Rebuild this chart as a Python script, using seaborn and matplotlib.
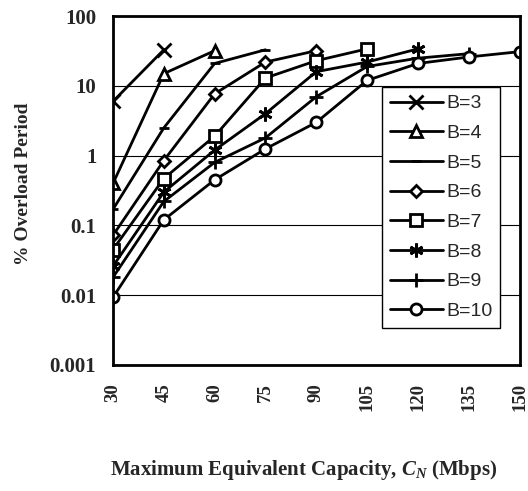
import matplotlib
matplotlib.use("Agg")
import matplotlib.pyplot as plt
import seaborn as sns
import numpy as np

capacity = [30, 45, 60, 75, 90, 105, 120, 135, 150]
b3 = [6.0, 33]
b4 = [0.4, 15, 32]
b5 = [0.17, 2.5, 21, 33]
b6 = [0.072, 0.85, 7.7, 22, 32]
b7 = [0.045, 0.47, 1.9, 13, 23, 34]
b8 = [0.026, 0.3, 1.2, 4.0, 16, 22, 34]
b9 = [0.018, 0.22, 0.8, 1.8, 7.0, 19, 25, 29]
b10 = [0.0093, 0.12, 0.45, 1.25, 3.0, 12, 21, 26, 31]
series_labels = ["B=3", "B=4", "B=5", "B=6", "B=7", "B=8", "B=9", "B=10"]
series_values = [b3, b4, b5, b6, b7, b8, b9, b10]
y_ticks = [0.001, 0.01, 0.1, 1, 10, 100]
y_tick_labels = ["0.001", "0.01", "0.1", "1", "10", "100"]
x_ticks = [30, 45, 60, 75, 90, 105, 120, 135, 150]

sns.set_style("white")
plt.rcParams["font.family"] = ["Liberation Serif", "DejaVu Serif"]
plt.rcParams["mathtext.fontset"] = "custom"
plt.rcParams["mathtext.rm"] = "Liberation Serif:bold"
plt.rcParams["mathtext.it"] = "Liberation Serif:bold:italic"
plt.rcParams["mathtext.bf"] = "Liberation Serif:bold"

markers = ["x", "^", "_", "D", "s", (6, 2, 0), "+", "o"]
msizes = [10, 8, 7, 6, 8, 10, 10, 8]

fig = plt.figure(figsize=(5.28, 4.91), dpi=100)
ax = fig.add_axes([0.214, 0.257, 0.770, 0.710])

for lab, vals, mk, ms in zip(series_labels, series_values, markers, msizes):
    sns.lineplot(x=capacity[:len(vals)], y=vals, ax=ax, color="black", lw=2,
                 marker=mk, markersize=ms, markerfacecolor="white",
                 markeredgecolor="black", markeredgewidth=2, label=lab)

ax.set_yscale("log")
ax.set_ylim(0.001, 100)
ax.set_xlim(30, 150)
ax.set_yticks(y_ticks)
ax.set_yticklabels(y_tick_labels, fontsize=15, fontweight="bold")
ax.set_xticks(x_ticks)
ax.set_xticklabels([str(t) for t in x_ticks], rotation=90, fontsize=13.5, fontweight="bold")
ax.minorticks_off()
ax.tick_params(axis="x", direction="inout", length=6, width=1, pad=10)
ax.tick_params(axis="y", direction="out", length=4, width=1, pad=8)
ax.grid(axis="y", color="black", lw=0.8)
for s in ax.spines.values():
    s.set_color("black")
    s.set_linewidth(2)

ax.set_ylabel("% Overload Period", fontsize=14, fontweight="bold")
ax.yaxis.set_label_coords(-0.198, 0.52)
ax.set_xlabel("Maximum Equivalent Capacity, $C_N$ (Mbps)",
              fontsize=15, fontweight="bold")
ax.xaxis.set_label_coords(0.47, -0.266)

leg = ax.legend(loc="upper right", bbox_to_anchor=(0.977, 0.825), frameon=True,
                fancybox=False, edgecolor="black", framealpha=1, handlelength=2.7,
                labelspacing=0.62, borderpad=0.4, handletextpad=0.2,
                prop={"family": ["Liberation Sans", "DejaVu Sans"], "size": 14})
leg.get_frame().set_linewidth(1)

fig.savefig("out.png", dpi=100)
